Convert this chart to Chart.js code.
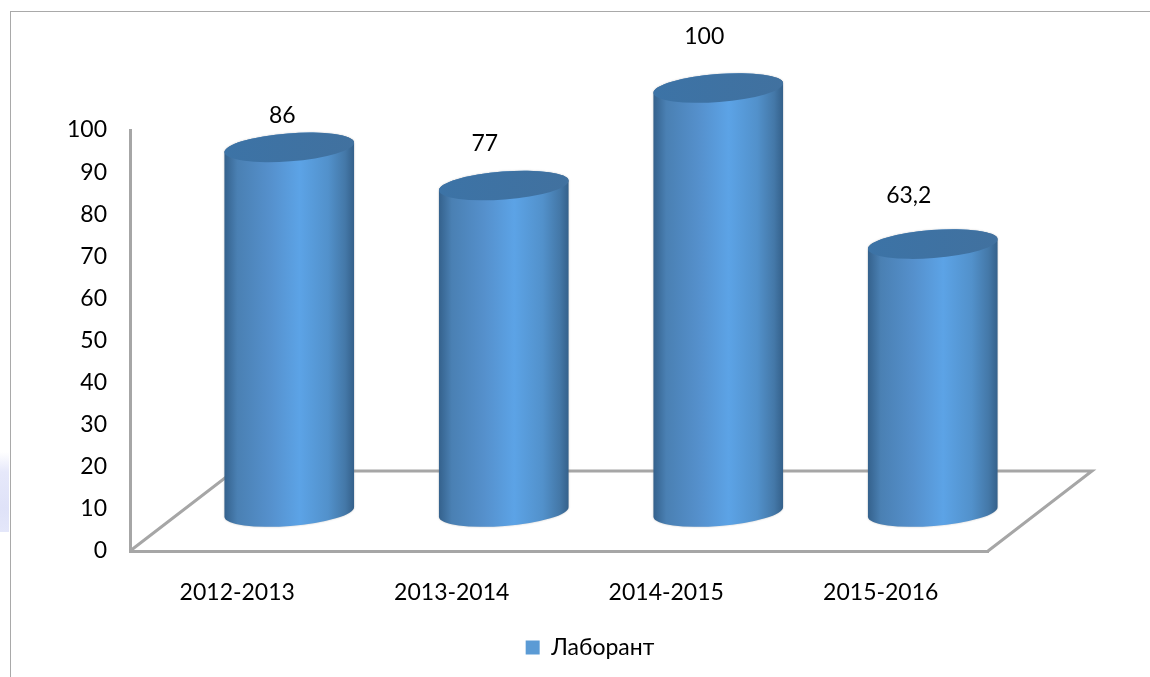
<!DOCTYPE html>
<html>
<head>
<meta charset="utf-8">
<script src="https://cdn.jsdelivr.net/npm/chart.js@4"></script>
<style>
  html, body { margin: 0; padding: 0; background: #fff; overflow: hidden; }
  #frame { position: absolute; left: 10px; top: 11px; width: 1140px; height: 666px; border-left: 1px solid #a9a9a9; border-top: 1px solid #a9a9a9; }
  #smudge { position: absolute; left: 0; top: 452px; width: 9px; height: 80px; background: linear-gradient(180deg, #ffffff, #e6e8fa 25%, #dfe2f8 70%, #e4e7fa); }
  canvas { position: absolute; left: 0; top: 0; }
</style>
</head>
<body>
<div id="smudge"></div>
<div id="frame"></div>
<canvas id="labChart" width="1150" height="677"></canvas>
<script>
const categories = ['2012-2013', '2013-2014', '2014-2015', '2015-2016'];
const values = [86, 77, 100, 63.2];
const seriesName = 'Лаборант';

// labels in the original sit off-centre, different for each bar
const labelShiftX = [-7, -19, -14, -24];
const labelShiftY = [-32, -42, -51, -48];

const font = 'Lato, sans-serif';
const axisColor = '#a6a6a6';

const depthX = 104, depthY = 80;   // floor depth
const barShiftX = 52, barShiftY = 39;
const ellipseRy = 14;
const tilt = -Math.atan(10 / 130);

const cylinders = {
  id: 'cylinders',
  beforeDatasetDraw(chart, args) {
    const ctx = chart.ctx;
    const x = chart.scales.x, y = chart.scales.y;

    // floor goes behind the bars
    ctx.save();
    ctx.strokeStyle = axisColor;
    ctx.lineWidth = 3;
    ctx.lineJoin = 'miter';
    ctx.beginPath();
    ctx.moveTo(x.left, y.bottom);
    ctx.lineTo(x.left + depthX, y.bottom - depthY);
    ctx.lineTo(x.right + depthX, y.bottom - depthY);
    ctx.lineTo(x.right, y.bottom);
    ctx.stroke();
    ctx.restore();

    args.meta.data.forEach(bar => {
      const cx = bar.x + barShiftX;
      const top = bar.y - barShiftY;
      const base = bar.base - barShiftY;
      const rx = bar.width / 2;

      const grad = ctx.createLinearGradient(cx - rx, 0, cx + rx, 0);
      grad.addColorStop(0, '#34618c');
      grad.addColorStop(0.1, '#4a80b3');
      grad.addColorStop(0.35, '#5590cc');
      grad.addColorStop(0.58, '#5ca3e6');
      grad.addColorStop(0.8, '#5291cb');
      grad.addColorStop(0.93, '#4478a8');
      grad.addColorStop(1, '#34608a');

      ctx.save();
      ctx.beginPath();
      ctx.ellipse(cx, base, rx, ellipseRy, tilt, 0, Math.PI);
      ctx.ellipse(cx, top, rx, ellipseRy, tilt, Math.PI, Math.PI * 2);
      ctx.closePath();
      ctx.fillStyle = grad;
      ctx.shadowColor = 'rgba(120,120,120,0.45)';
      ctx.shadowBlur = 2;
      ctx.fill();
      ctx.shadowBlur = 0;

      const capGrad = ctx.createLinearGradient(cx - rx, 0, cx + rx, 0);
      capGrad.addColorStop(0, '#3c73a6');
      capGrad.addColorStop(1, '#41719f');
      ctx.beginPath();
      ctx.ellipse(cx, top, rx, ellipseRy, tilt, 0, Math.PI * 2);
      ctx.fillStyle = capGrad;
      ctx.fill();
      ctx.restore();
    });
    return false;
  },
  afterDatasetsDraw(chart) {
    const ctx = chart.ctx;
    ctx.save();
    ctx.font = '23px ' + font;
    ctx.fillStyle = '#000';
    ctx.textAlign = 'center';
    ctx.textBaseline = 'middle';
    chart.getDatasetMeta(0).data.forEach((bar, i) => {
      const text = String(values[i]).replace('.', ',');
      ctx.fillText(text, bar.x + barShiftX + labelShiftX[i], bar.y - barShiftY + labelShiftY[i]);
    });
    ctx.restore();
  }
};

new Chart(document.getElementById('labChart'), {
  type: 'bar',
  data: {
    labels: categories,
    datasets: [{
      label: seriesName,
      data: values,
      yAxisID: 'yBars',
      backgroundColor: '#5b9bd5',
      barThickness: 130
    }]
  },
  plugins: [cylinders],
  options: {
    responsive: false,
    animation: false,
    layout: { padding: { left: 30, right: 0, top: 130, bottom: 8 } },
    plugins: {
      tooltip: { enabled: false },
      legend: {
        position: 'bottom',
        onClick: null,
        labels: { color: '#000', font: { family: font, size: 23 }, boxWidth: 14, boxHeight: 14, padding: 10 }
      }
    },
    scales: {
      x: {
        grid: { display: false },
        border: { color: axisColor, width: 3 },
        ticks: { color: '#000', font: { family: font, size: 23 }, padding: 20, maxRotation: 0 },
        afterFit: s => { s.height = 75; }
      },
      y: {
        min: 0,
        max: 100,
        position: 'left',
        grid: { display: false },
        border: { color: axisColor, width: 3 },
        ticks: { stepSize: 10, color: '#000', font: { family: font, size: 23 }, padding: 15 },
        afterFit: s => { s.width = 100; }
      },
      yBars: {
        min: 0,
        max: 99.3,
        position: 'right',
        grid: { display: false },
        border: { display: false },
        ticks: { display: false },
        afterFit: s => { s.width = 162; }
      }
    }
  }
});
</script>
</body>
</html>
